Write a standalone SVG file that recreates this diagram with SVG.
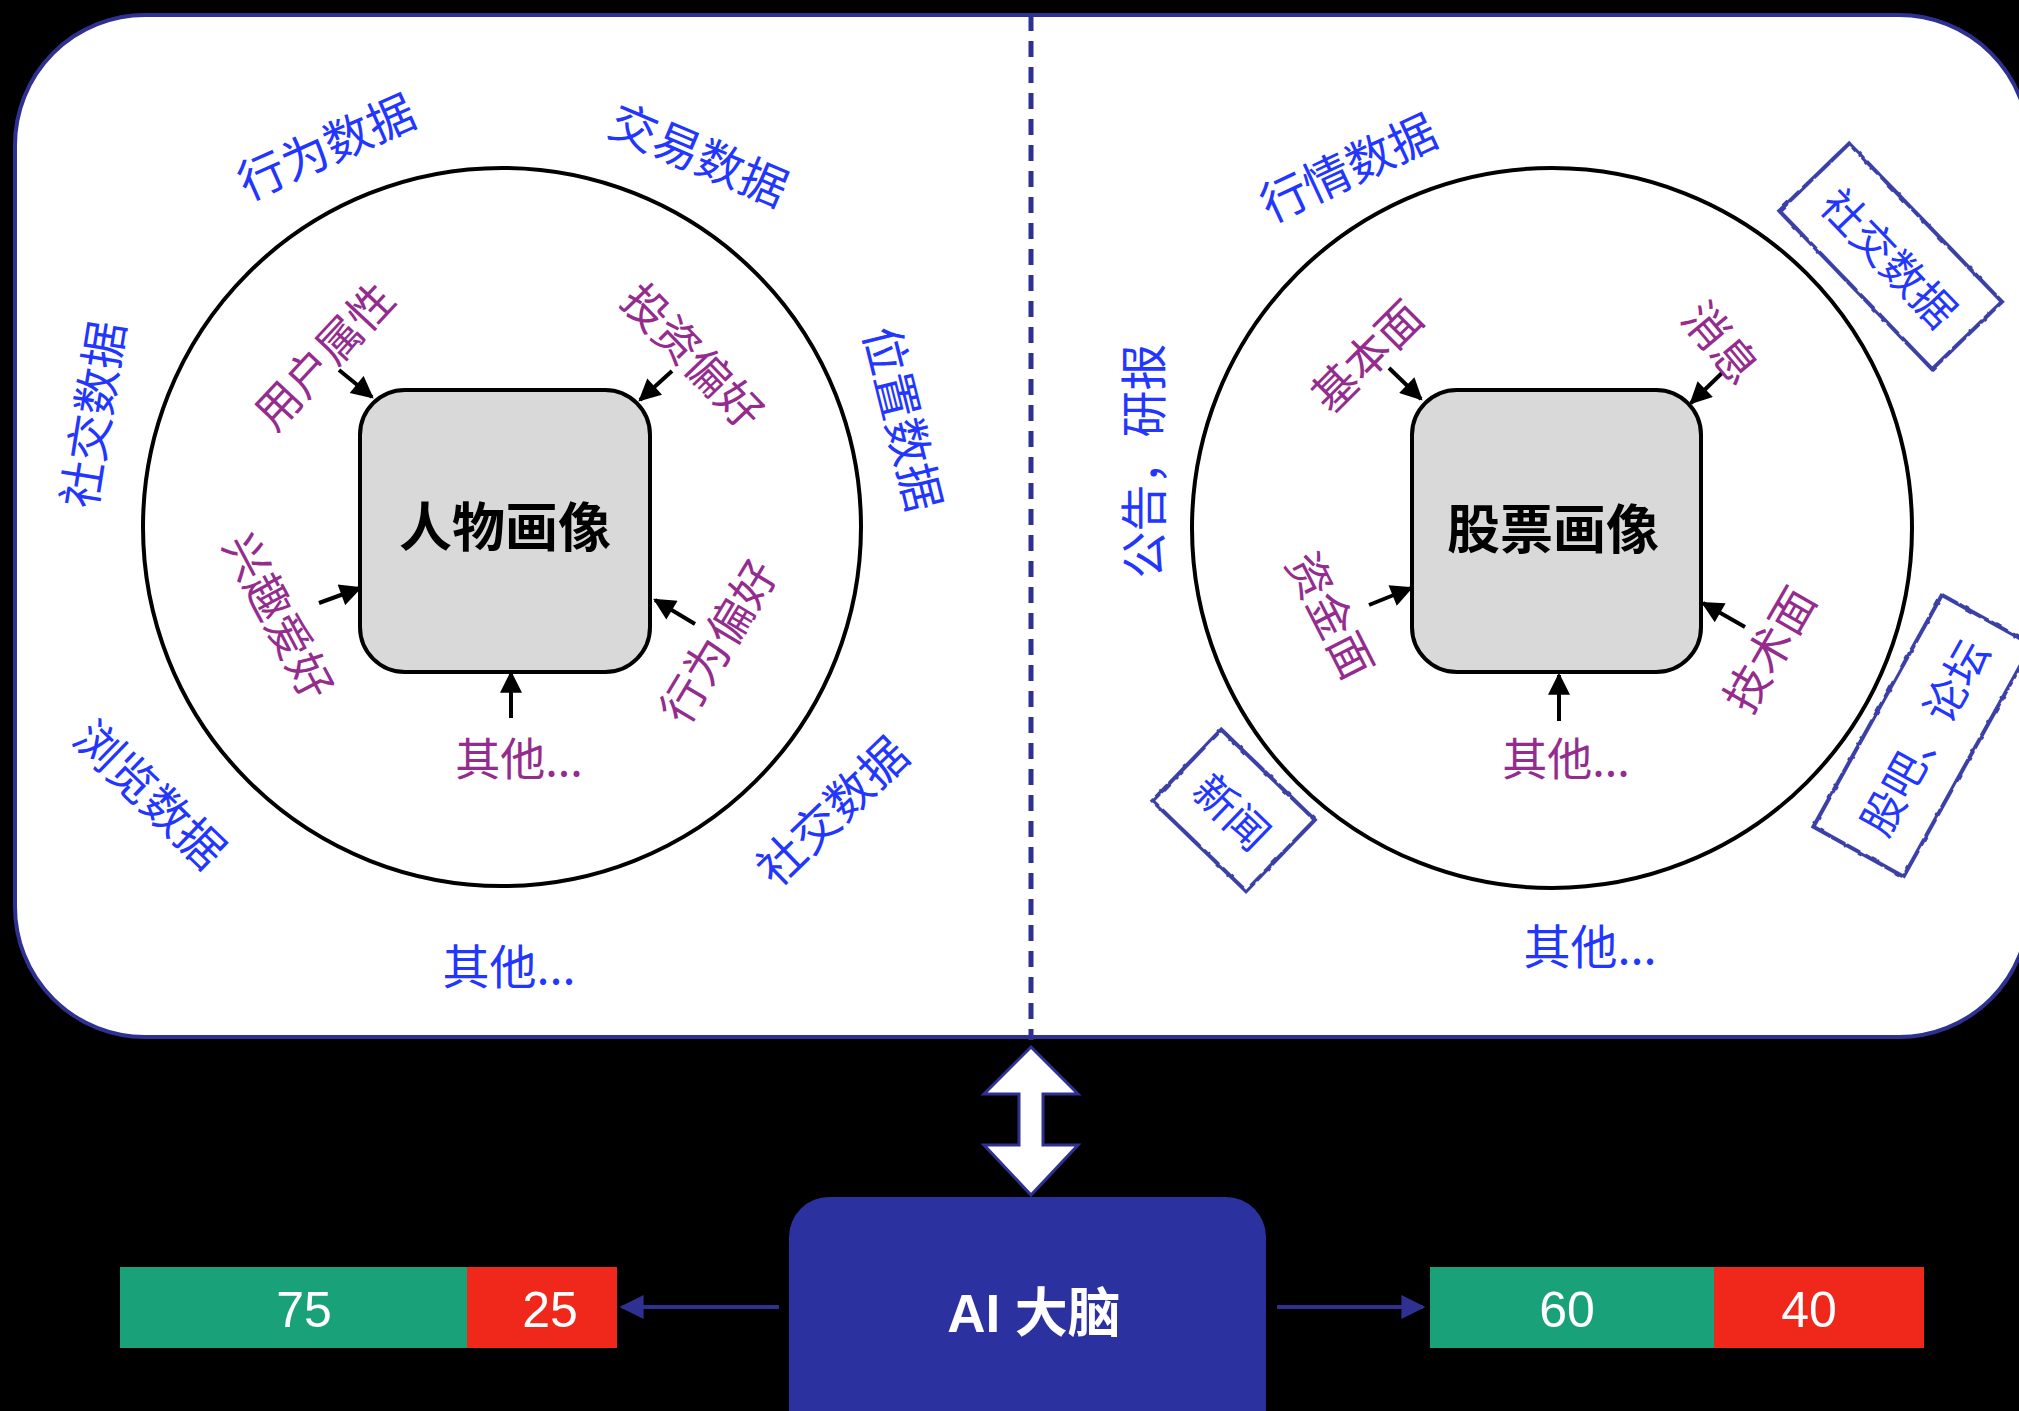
<svg xmlns="http://www.w3.org/2000/svg" width="2019" height="1411" viewBox="0 0 2019 1411">
<defs>
<style>
.blue{font-family:"Noto Sans CJK SC","Liberation Sans",sans-serif;font-size:47px;fill:#2236ff;text-anchor:middle;dominant-baseline:central}
.purp{font-family:"Noto Sans CJK SC","Liberation Sans",sans-serif;font-size:45px;fill:#942c8e;text-anchor:middle;dominant-baseline:central}
.title{font-family:"Liberation Sans","Noto Sans CJK SC",sans-serif;font-size:53px;font-weight:bold;fill:#000;text-anchor:middle;dominant-baseline:central}
.num{font-family:"Liberation Sans","Noto Sans CJK SC",sans-serif;font-size:50px;fill:#fff;text-anchor:middle;dominant-baseline:central}
.ring{fill:none;stroke:#000;stroke-width:4}
.core{fill:#d9d9d9;stroke:#000;stroke-width:4}
.arr{stroke:#000;stroke-width:4;fill:none;marker-end:url(#ah)}
.barr{stroke:#2e3192;stroke-width:4;fill:none;marker-end:url(#bh)}
.sk{fill:none;stroke:#3a3fa6;stroke-width:4;filter:url(#rough)}
</style>
<marker id="ah" viewBox="0 0 10 10" refX="9" refY="5" markerWidth="24" markerHeight="22" markerUnits="userSpaceOnUse" orient="auto"><path d="M0,0 L10,5 L0,10 z" fill="#000"/></marker>
<marker id="bh" viewBox="0 0 10 10" refX="9" refY="5" markerWidth="24" markerHeight="30" markerUnits="userSpaceOnUse" orient="auto"><path d="M0,0 L10,5 L0,10 z" fill="#2e3192"/></marker>
<filter id="rough" x="-10%" y="-10%" width="120%" height="120%"><feTurbulence type="fractalNoise" baseFrequency="0.12" numOctaves="2" seed="3"/><feDisplacementMap in="SourceGraphic" scale="3"/></filter>
</defs>
<rect x="0" y="0" width="2019" height="1411" fill="#000"/>
<g id="panel">
<rect x="15" y="15" width="2014" height="1022" rx="130" ry="130" fill="#fff" stroke="#2e3192" stroke-width="4"/>
</g>
<g id="connectors">
<line x1="1031" y1="15" x2="1031" y2="1040" stroke="#2e3192" stroke-width="5" stroke-dasharray="16 10"/>
<polygon points="1031,1047 1078,1094 1043,1094 1043,1145 1078,1145 1031,1195 984,1145 1019,1145 1019,1094 984,1094" fill="#fff" stroke="#2e3192" stroke-width="3"/>
<line class="arr" x1="339" y1="370" x2="372" y2="397"/>
<line class="arr" x1="672" y1="371" x2="640" y2="400"/>
<line class="arr" x1="319" y1="603" x2="360" y2="588"/>
<line class="arr" x1="695" y1="624" x2="655" y2="600"/>
<line class="arr" x1="511" y1="718" x2="511" y2="673"/>
<line class="arr" x1="1389" y1="368" x2="1421" y2="399"/>
<line class="arr" x1="1723" y1="372" x2="1691" y2="403"/>
<line class="arr" x1="1369" y1="605" x2="1411" y2="588"/>
<line class="arr" x1="1745" y1="627" x2="1703" y2="603"/>
<line class="arr" x1="1559" y1="721" x2="1559" y2="675"/>
<line class="barr" x1="779" y1="1307" x2="622" y2="1307"/>
<line class="barr" x1="1277" y1="1307" x2="1423" y2="1307"/>
</g>
<g id="person">
<circle class="ring" cx="502" cy="527" r="359"/>
<rect class="core" x="360" y="390" width="290" height="282" rx="45"/>
<text class="title" x="505" y="528">人物画像</text>
</g>
<g id="person-inner-labels">
<text class="purp" transform="translate(322,354) rotate(-47)">用户属性</text>
<text class="purp" transform="translate(695,354) rotate(46)">投资偏好</text>
<text class="purp" transform="translate(281,615) rotate(62)">兴趣爱好</text>
<text class="purp" transform="translate(716,640) rotate(-59)">行为偏好</text>
<text class="purp" x="519" y="756">其他...</text>
</g>
<g id="person-outer-labels">
<text class="blue" transform="translate(325,144) rotate(-24)">行为数据</text>
<text class="blue" transform="translate(700,152) rotate(23)">交易数据</text>
<text class="blue" transform="translate(90,414) rotate(-81)">社交数据</text>
<text class="blue" transform="translate(906,418) rotate(76)">位置数据</text>
<text class="blue" transform="translate(152,792) rotate(44)">浏览数据</text>
<text class="blue" transform="translate(830,809) rotate(-44)">社交数据</text>
<text class="blue" x="509" y="963">其他...</text>
</g>
<g id="stock">
<circle class="ring" cx="1552" cy="528" r="360"/>
<rect class="core" x="1412" y="390" width="289" height="282" rx="45"/>
<text class="title" x="1553" y="530">股票画像</text>
</g>
<g id="stock-inner-labels">
<text class="purp" transform="translate(1365,354) rotate(-45)">基本面</text>
<text class="purp" transform="translate(1723,341) rotate(50)">消息</text>
<text class="purp" transform="translate(1333,614) rotate(63)">资金面</text>
<text class="purp" transform="translate(1767,648) rotate(-60)">技术面</text>
<text class="purp" x="1566" y="756">其他...</text>
</g>
<g id="stock-outer-labels">
<text class="blue" transform="translate(1347,165) rotate(-25)">行情数据</text>
<text class="blue" transform="translate(1140,461) rotate(-90)">公告，研报</text>
<text class="blue" x="1590" y="943">其他...</text>
</g>
<g id="box-social" transform="translate(1891,256) rotate(46)">
<rect class="sk" x="-110" y="-48" width="220" height="97"/>
<text class="blue" x="0" y="0" style="font-size:43px">社交数据</text>
</g>
<g id="box-news" transform="translate(1234,810) rotate(44)">
<rect class="sk" x="-65" y="-49" width="130" height="99"/>
<text class="blue" x="0" y="0" style="font-size:43px">新闻</text>
</g>
<g id="box-forum" transform="translate(1922,736) rotate(-61)">
<rect class="sk" x="-132" y="-51" width="265" height="103"/>
<text class="blue" x="0" y="0" style="font-size:43px">股吧、论坛</text>
</g>
<g id="ai-brain">
<rect x="789" y="1197" width="477" height="260" rx="40" fill="#2c31a0"/>
<text class="title" x="1034" y="1313" style="fill:#fff">AI 大脑</text>
</g>
<g id="bar-left">
<rect x="120" y="1267" width="347" height="81" fill="#19a27a"/>
<rect x="467" y="1267" width="150" height="81" fill="#f0281c"/>
<text class="num" x="304" y="1310">75</text>
<text class="num" x="550" y="1310">25</text>
</g>
<g id="bar-right">
<rect x="1430" y="1267" width="284" height="81" fill="#19a27a"/>
<rect x="1714" y="1267" width="210" height="81" fill="#f0281c"/>
<text class="num" x="1567" y="1310">60</text>
<text class="num" x="1809" y="1310">40</text>
</g>
</svg>
